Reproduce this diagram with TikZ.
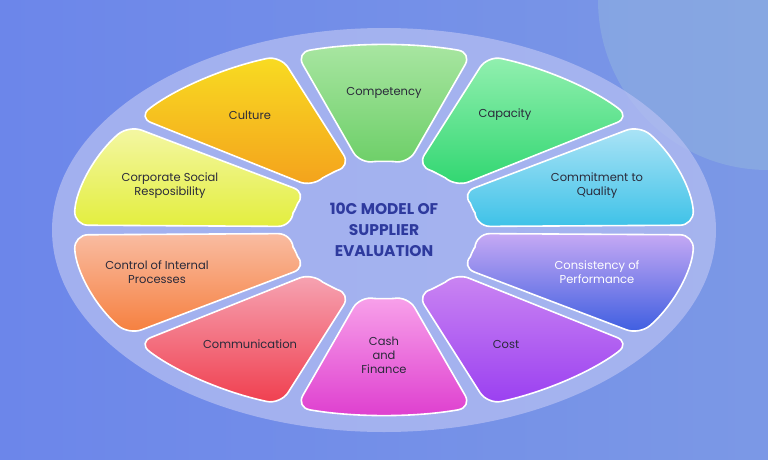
\documentclass[tikz,border=0pt]{standalone}
\usepackage{fontspec}
\setmainfont{Poppins}
\usetikzlibrary{positioning}
\definecolor{bgblue}{HTML}{6C86EA}
\definecolor{bgteal}{HTML}{9FC3DC}
\definecolor{ringfill}{HTML}{B4BEF2}
\definecolor{titleblue}{HTML}{2E3A9E}
\definecolor{labeldark}{HTML}{2A2A3A}

\begin{document}
\begin{tikzpicture}[
                    x=1pt, y=1pt,
                    segment/.style={
                        draw=white,
                        line width=1.6pt,
                        rounded corners=14pt
                    },
                    seglabel/.style={
                        align=center,
                        text=labeldark,
                        font=\fontsize{11.5}{14}\selectfont,
                        inner sep=1pt
                    },
                    dlabel/.style={
                        seglabel,
                        text=white
                    }
                ]
                % background
                \useasboundingbox (0,0) rectangle (768,459);
                \begin{scope}
                    \clip (0,0) rectangle (768,459);
                    \shade [left color=bgblue, right color=bgblue!70!bgteal] (0,0) rectangle (768,459);
                    \fill [bgteal, opacity=0.35] (768,459) circle (170);
                \end{scope}
                \fill [ringfill, opacity=0.75] (384,229) ellipse [x radius=332, y radius=202];

                % ring segments: centre angle / top colour / bottom colour
                \begin{scope}[shift={(384,229)}]
                    \foreach \a/\ct/\cb in {
                        90/A9E6A2/6DCF68,
                        126/F8DC22/F4A11C,
                        162/F4F7A6/E3EE3E,
                        198/F9BCA2/F67E3C,
                        234/F6A5B4/F03E4E,
                        270/F8A2EA/DE3ECF,
                        306/CB86F2/9A3FF1,
                        342/C6A9F4/3A5CE0,
                        18/AEE4F6/3EC2E8,
                        54/93F0B0/2FD670} {
                        \definecolor{segtop}{HTML}{\ct}
                        \definecolor{segbot}{HTML}{\cb}
                        \shade [segment, top color=segtop, bottom color=segbot]
                            (\a-16.5:310 and 185)
                            arc [start angle=\a-16.5, end angle=\a+16.5, x radius=310, y radius=185]
                            -- (\a+15:92 and 68)
                            arc [start angle=\a+15, end angle=\a-15, x radius=92, y radius=68]
                            -- cycle;
                    }
                \end{scope}

                % labels
                \node (COMP) [seglabel] at (384,366) {Competency};
                \node (CULT) [seglabel] at (250,344) {Culture};
                \node (CSR) [seglabel] at (170,273) {Corporate Social\\Resposibility};
                \node (CTRL) [seglabel] at (157,187) {Control of Internal\\Processes};
                \node (COMM) [seglabel] at (250,115) {Communication};
                \node (CASH) [seglabel] at (384,104) {Cash\\and\\Finance};
                \node (COST) [seglabel] at (506,115) {Cost};
                \node (CONS) [dlabel] at (597,187) {Consistency of\\Performance};
                \node (QUAL) [seglabel] at (597,273) {Commitment to\\Quality};
                \node (CAPA) [seglabel] at (505,344) {Capacity};

                \node (TITLE) [align=center, text=titleblue, font=\fontsize{15.5}{21}\selectfont\bfseries] at (384,229) {10C MODEL OF\\SUPPLIER\\EVALUATION};
            \end{tikzpicture}
\end{document}
